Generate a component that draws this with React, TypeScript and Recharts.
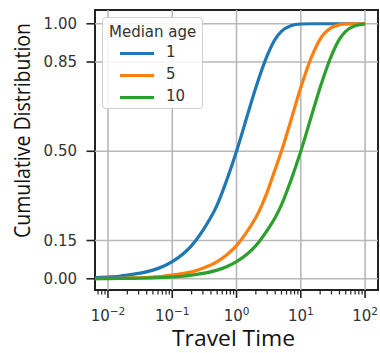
import React from 'react';
import {
  Line,
  LineChart,
  ReferenceArea,
  ReferenceLine,
  XAxis,
  YAxis,
} from 'recharts';

// travel times (x, log scale) and cumulative share for each median age
const travelTimes = [
  0.0063, 0.01, 0.015, 0.02, 0.03, 0.05, 0.07, 0.1, 0.15, 0.2, 0.3, 0.5, 0.7,
  1, 1.5, 2, 3, 4, 5, 7, 10, 15, 20, 30, 40, 50, 70, 100,
];
const age1 = [
  0.0044, 0.007, 0.01, 0.014, 0.021, 0.034, 0.047, 0.067, 0.099, 0.13, 0.19,
  0.29, 0.385, 0.5, 0.647, 0.75, 0.875, 0.94, 0.97, 0.992, 0.999, 1, 1, 1, 1,
  1, 1, 1,
];
const age5 = [
  0.0009, 0.0014, 0.002, 0.003, 0.004, 0.007, 0.0097, 0.014, 0.021, 0.027,
  0.041, 0.067, 0.093, 0.13, 0.19, 0.24, 0.34, 0.43, 0.5, 0.62, 0.75, 0.875,
  0.94, 0.985, 0.996, 0.999, 1, 1,
];
const age10 = [
  0.0004, 0.0007, 0.001, 0.0014, 0.002, 0.0035, 0.005, 0.007, 0.01, 0.014,
  0.021, 0.034, 0.047, 0.067, 0.099, 0.13, 0.19, 0.24, 0.29, 0.385, 0.5,
  0.647, 0.75, 0.875, 0.94, 0.97, 0.992, 0.999,
];

const seriesNames = ['1', '5', '10'];
const seriesColors = ['#1f77b4', '#ff7f0e', '#2ca02c'];

const xMajorTicks = [0.01, 0.1, 1, 10, 100];
const xMinorTicks = [
  0.007, 0.008, 0.009, 0.02, 0.03, 0.04, 0.05, 0.06, 0.07, 0.08, 0.09, 0.2,
  0.3, 0.4, 0.5, 0.6, 0.7, 0.8, 0.9, 2, 3, 4, 5, 6, 7, 8, 9, 20, 30, 40, 50,
  60, 70, 80, 90,
];
const yTicks = [0, 0.15, 0.5, 0.85, 1];

const xDomain = [0.00628, 159];
const yDomain = [-0.044, 1.054];

const chartData = travelTimes.map((t, i) => ({
  t,
  a1: age1[i],
  a5: age5[i],
  a10: age10[i],
}));
const keys = ['a1', 'a5', 'a10'];

const tickFont = 'DejaVu Sans, sans-serif';
const titleFont = '"Open Sans", sans-serif';

const XTick = ({ x, y, payload }: any) => {
  const v = payload.value;
  const major = xMajorTicks.includes(v);
  const exp = Math.round(Math.log10(v));
  return (
    <g>
      <line
        x1={x}
        x2={x}
        y1={y}
        y2={y + (major ? 8 : 4.5)}
        stroke="#222"
        strokeWidth={major ? 1.6 : 1.2}
      />
      {major && (
        <text
          x={x}
          y={y + 31}
          textAnchor="middle"
          fontSize={15}
          fontFamily={tickFont}
          fill="#333"
        >
          10
          <tspan dy={-6} fontSize={10.5}>
            {exp < 0 ? '\u2212' + -exp : exp}
          </tspan>
        </text>
      )}
    </g>
  );
};

const YTick = ({ x, y, payload }: any) => (
  <g>
    <line x1={x - 8.5} x2={x} y1={y} y2={y} stroke="#222" strokeWidth={1.6} />
    <text
      x={x - 18}
      y={y}
      dy={5}
      textAnchor="end"
      fontSize={15}
      fontFamily={tickFont}
      fill="#333"
    >
      {payload.value.toFixed(2)}
    </text>
  </g>
);

const App = () => {
  return (
    <div style={{ position: 'absolute', left: 0, top: 0, width: 380, height: 353 }}>
      <LineChart
        width={380}
        height={353}
        data={chartData}
        margin={{ top: 10, right: 2, bottom: 33, left: 35 }}
      >
        <XAxis
          dataKey="t"
          type="number"
          scale="log"
          domain={xDomain}
          allowDataOverflow
          ticks={[...xMajorTicks, ...xMinorTicks]}
          interval={0}
          tick={<XTick />}
          tickSize={0}
          tickMargin={0}
          axisLine={false}
          height={30}
        />
        <YAxis
          type="number"
          domain={yDomain}
          allowDataOverflow
          ticks={yTicks}
          interval={0}
          tick={<YTick />}
          tickSize={0}
          tickMargin={0}
          axisLine={false}
          width={60}
        />
        {xMajorTicks.map((v) => (
          <ReferenceLine key={'gx' + v} x={v} stroke="#b8b8b8" strokeWidth={1.6} />
        ))}
        {yTicks.map((v) => (
          <ReferenceLine key={'gy' + v} y={v} stroke="#b8b8b8" strokeWidth={1.6} />
        ))}
        {keys.map((k, i) => (
          <Line
            key={k}
            type="monotone"
            dataKey={k}
            stroke={seriesColors[i]}
            strokeWidth={3.2}
            dot={false}
            isAnimationActive={false}
          />
        ))}
        <ReferenceArea
          x1={xDomain[0]}
          x2={xDomain[1]}
          y1={yDomain[0]}
          y2={yDomain[1]}
          fill="none"
          stroke="#222"
          strokeWidth={2}
          ifOverflow="visible"
        />
      </LineChart>

      {/* axis titles */}
      <svg
        width={380}
        height={353}
        style={{ position: 'absolute', left: 0, top: 0, pointerEvents: 'none' }}
      >
        <text
          x={233.5}
          y={346}
          textAnchor="middle"
          fontSize={21}
          fontWeight={400}
          fontFamily={titleFont}
          fill="#111"
          textLength={123}
          lengthAdjust="spacingAndGlyphs"
        >
          Travel Time
        </text>
        <text
          transform="translate(29.5,130.5) rotate(-90)"
          textAnchor="middle"
          fontSize={21}
          fontWeight={400}
          fontFamily={titleFont}
          fill="#111"
          textLength={215}
          lengthAdjust="spacingAndGlyphs"
        >
          Cumulative Distribution
        </text>
      </svg>

      {/* legend */}
      <div
        style={{
          position: 'absolute',
          left: 102,
          top: 17,
          width: 101,
          height: 92,
          boxSizing: 'border-box',
          border: '1.5px solid #d0d0d0',
          borderRadius: 4,
          background: 'rgba(255,255,255,0.85)',
          fontFamily: tickFont,
          fontSize: 15,
          color: '#333',
        }}
      >
        <div style={{ position: 'absolute', left: 6, top: 5, whiteSpace: 'nowrap' }}>
          Median age
        </div>
        {seriesNames.map((n, i) => (
          <div
            key={n}
            style={{ position: 'absolute', left: 17, top: 26 + i * 22, height: 18 }}
          >
            <div
              style={{
                position: 'absolute',
                left: 0,
                top: 7.5,
                width: 34,
                height: 3,
                background: seriesColors[i],
              }}
            />
            <div style={{ position: 'absolute', left: 46, top: -1 }}>{n}</div>
          </div>
        ))}
      </div>
    </div>
  );
};

export default App;
